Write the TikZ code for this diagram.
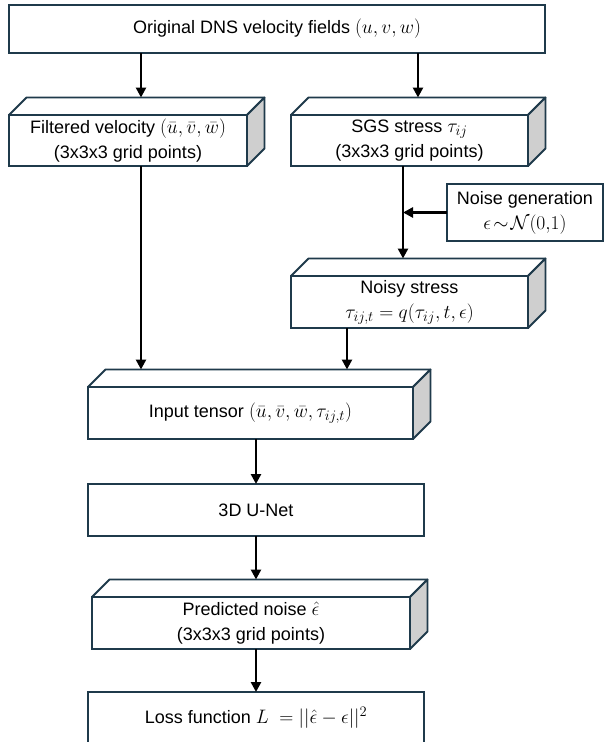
\RequirePackage{fix-cm}
\documentclass[tikz,border=0pt]{standalone}
\usepackage{fontspec}
\setmainfont{Liberation Sans}
\DeclareMathSizes{18}{19.5}{14.5}{11}
\usetikzlibrary{arrows.meta,calc}
\definecolor{edge}{HTML}{1F3A4B}
\definecolor{sidegray}{HTML}{CFCFCF}
\newcommand\dd{17.5}
\newcommand\cubefaces[1]{%
  \draw[face, fill=white] (#1.north west) -- ($(#1.north west)+(\dd,-\dd)$) -- ($(#1.north east)+(\dd,-\dd)$) -- (#1.north east) -- cycle;
  \draw[face, fill=sidegray] (#1.north east) -- ($(#1.north east)+(\dd,-\dd)$) -- ($(#1.south east)+(\dd,-\dd)$) -- (#1.south east) -- cycle;}
\tikzset{
  box/.style 2 args={draw=edge, line width=1.8pt, fill=white, minimum width=#1, minimum height=#2,
    inner sep=0pt, outer sep=0pt, align=center, font=\fontsize{18}{25}\selectfont},
  face/.style={draw=edge, line width=1.8pt, line join=round},
  arr/.style={line width=2.9pt, black, -{Triangle[length=10pt,width=10pt]}}
}
\begin{document}
\begin{tikzpicture}[x=1pt,y=-1pt]
\useasboundingbox (0,0) rectangle (603,742);
% nodes
\node[box={536}{48}] (top) at (277,29) {Original DNS velocity fields $(u,v,w)$};
\node[box={238}{51}] (filt) at (128,140.5) {Filtered velocity $(\bar u,\bar v,\bar w)$\\(3x3x3 grid points)};
\node[box={237}{51}] (sgs) at (409.5,140.5) {SGS stress $\tau_{ij}$\\(3x3x3 grid points)};
\node[box={156}{57}] (noise) at (525,212.5) {Noise generation\\$\epsilon\!\sim\!\mathcal{N}(0,\!1)$};
\node[box={237}{52}] (noisy) at (409.5,302) {Noisy stress\\$\tau_{ij,t}=q(\tau_{ij},t,\epsilon)$};
\node[box={325}{52}] (inp) at (250.5,413) {Input tensor $\left(\bar u,\bar v,\bar w,\tau_{ij,t}\right)$};
\node[box={336}{52}] (unet) at (256,510) {3D U-Net};
\node[box={318}{52}] (pred) at (251,623) {Predicted noise $\hat\epsilon$\\(3x3x3 grid points)};
\node[box={336}{52}] (loss) at (256,718) {Loss function $L\ = ||\hat\epsilon-\epsilon||^2$};
% 3D faces
\cubefaces{filt}
\cubefaces{sgs}
\cubefaces{noisy}
\cubefaces{inp}
\cubefaces{pred}
% connector coordinates
\coordinate (fx) at (141,0);
\coordinate (sx) at (418,0);
\coordinate (sy) at (403,0);
\coordinate (nx) at (347,0);
\coordinate (ux) at (256,0);
\coordinate (filtTop) at ($(filt.north)+(0,-\dd)$);
\coordinate (sgsTop) at ($(sgs.north)+(0,-\dd)$);
\coordinate (noisyTop) at ($(noisy.north)+(0,-\dd)$);
\coordinate (inpTop) at ($(inp.north)+(0,-\dd)$);
\coordinate (predTop) at ($(pred.north)+(0,-\dd)$);
% connectors
\draw[arr] (top.south -| fx) -- (fx |- filtTop);
\draw[arr] (top.south -| sx) -- (sx |- sgsTop);
\draw[arr] (filt.south -| fx) -- (fx |- inpTop);
\draw[arr] (sgs.south -| sy) -- (sy |- noisyTop);
\draw[arr] (noise.west) -- (noise.west -| sy);
\draw[arr] (noisy.south -| nx) -- (nx |- inpTop);
\draw[arr] (inp.south -| ux) -- (ux |- unet.north);
\draw[arr] (unet.south -| ux) -- (ux |- predTop);
\draw[arr] (pred.south -| ux) -- (ux |- loss.north);
\end{tikzpicture}
\end{document}
